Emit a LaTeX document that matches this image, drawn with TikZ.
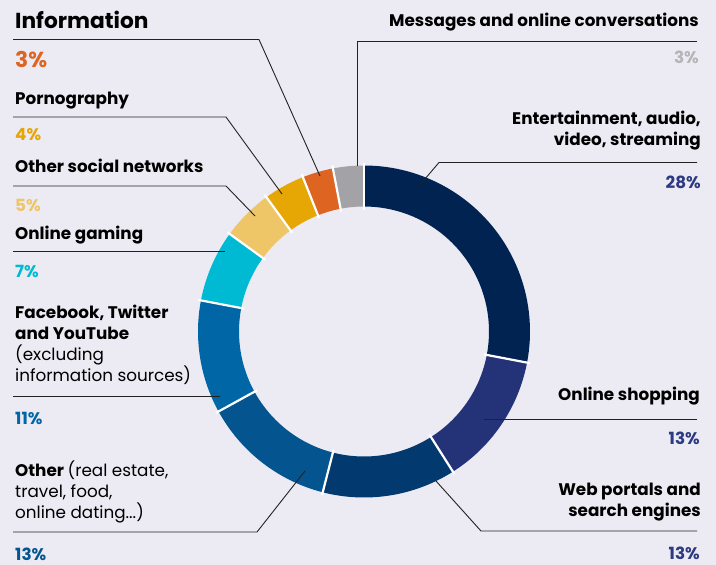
\documentclass[tikz,border=0pt]{standalone}
\usepackage{fontspec}
\setmainfont{Poppins}
\usetikzlibrary{calc}
\definecolor{bgc}{HTML}{ECEBF4}
\definecolor{cEnt}{HTML}{012352}
\definecolor{cShop}{HTML}{243378}
\definecolor{cWeb}{HTML}{023A6F}
\definecolor{cOther}{HTML}{03548F}
\definecolor{cFb}{HTML}{0066A6}
\definecolor{cGame}{HTML}{00B9D2}
\definecolor{cSoc}{HTML}{EEC567}
\definecolor{cPorn}{HTML}{E6A604}
\definecolor{cInfo}{HTML}{DD6421}
\definecolor{cMsg}{HTML}{A3A2A7}
\definecolor{tNavy}{HTML}{2B3A82}
\definecolor{tMsg}{HTML}{B5B5B8}
\definecolor{lineC}{HTML}{222222}
\begin{document}
\begin{tikzpicture}[x=1pt,y=-1pt,
  lblL/.style={inner sep=0pt, anchor=base west, align=left, font=\fontsize{16.8}{21}\selectfont\bfseries},
  lblR/.style={inner sep=0pt, anchor=base east, align=right, font=\fontsize{16.8}{21}\selectfont\bfseries},
  pctL/.style={inner sep=0pt, anchor=base west, font=\fontsize{16.8}{20}\selectfont\bfseries},
  pctR/.style={inner sep=0pt, anchor=base east, font=\fontsize{16.8}{20}\selectfont\bfseries},
  leader/.style={draw=lineC, line width=0.9pt},
  sep/.style={draw=white, line width=2.2pt}]
\fill[bgc] (0,0) rectangle (716,565);
\useasboundingbox (0,0) rectangle (716,565);
% donut
\coordinate (c) at (364,331.5);
\def\Ro{166}
\def\Ri{125}
\foreach \a/\b/\col in {0/28/cEnt, 28/41/cShop, 41/54/cWeb, 54/67/cOther, 67/78/cFb, 78/85/cGame, 85/90/cSoc, 90/94/cPorn, 94/97/cInfo, 97/100/cMsg}{
  \fill[\col] ($(c)+({-90+3.6*\a}:\Ro)$) arc[start angle={-90+3.6*\a}, end angle={-90+3.6*\b}, radius=\Ro]
    -- ($(c)+({-90+3.6*\b}:\Ri)$) arc[start angle={-90+3.6*\b}, end angle={-90+3.6*\a}, radius=\Ri] -- cycle;
}
\foreach \a in {0,28,41,54,67,78,85,90,94,97}{
  \draw[sep] ($(c)+({-90+3.6*\a}:{\Ri-3})$) -- ($(c)+({-90+3.6*\a}:{\Ro+3})$);
}
% left labels (base anchor = baseline of last line)
\node[inner sep=0pt, anchor=base west, font=\fontsize{21.7}{24}\selectfont\bfseries] (tInfo) at (15,28) {Information};
\node[inner sep=0pt, anchor=base west, font=\fontsize{21.7}{24}\selectfont\bfseries, text=cInfo] (pInfo) at (15,67) {3\%};
\node[lblL] (tPorn) at (15,104) {Pornography};
\node[pctL, text=cPorn] (pPorn) at (15,140) {4\%};
\node[lblL] (tSoc) at (15,172) {Other social networks};
\node[pctL, text=cSoc] (pSoc) at (15,211) {5\%};
\node[lblL] (tGame) at (15,239) {Online gaming};
\node[pctL, text=cGame] (pGame) at (15,277) {7\%};
\node[lblL] (tFb) at (15,381) {Facebook, Twitter\\and YouTube\\\mdseries(excluding\\\mdseries information sources)};
\node[pctL, text=cFb] (pFb) at (15,424) {11\%};
\node[lblL] (tOther) at (15,518) {Other \mdseries(real estate,\\\mdseries travel, food,\\\mdseries online dating...)};
\node[pctL, text=cOther] (pOther) at (15,560) {13\%};
% right labels
\node[lblR] (tMsg) at (699,26) {Messages and online conversations};
\node[pctR, text=tMsg] (pMsg) at (699,63) {3\%};
\node[lblR] (tEnt) at (701,145) {Entertainment, audio,\\video, streaming};
\node[pctR, text=tNavy] (pEnt) at (701,188) {28\%};
\node[lblR] (tShop) at (700,400) {Online shopping};
\node[pctR, text=tNavy] (pShop) at (700,444) {13\%};
\node[lblR] (tWeb) at (701,516) {Web portals and\\search engines};
\node[pctR, text=tNavy] (pWeb) at (700,559) {13\%};
% leader coordinates
\coordinate (infoA) at (13,39.5);  \coordinate (infoB) at (259,39.5);  \coordinate (infoE) at (320,176);
\coordinate (pornA) at (13,117);   \coordinate (pornB) at (226,117);   \coordinate (pornE) at (282,194);
\coordinate (socA) at (13,186);    \coordinate (socB) at (226,186);    \coordinate (socE) at (255,216);
\coordinate (gameA) at (13,251);   \coordinate (gameE) at (225,251);
\coordinate (fbA) at (13,396.5);   \coordinate (fbE) at (220,396.5);
\coordinate (othA) at (13,532);    \coordinate (othB) at (257,532);    \coordinate (othE) at (305,471);
\coordinate (msgA) at (697,41);    \coordinate (msgB) at (357,41);     \coordinate (msgE) at (357,166);
\coordinate (entA) at (697,162.5); \coordinate (entB) at (439,162.5);  \coordinate (entE) at (419,186);
\coordinate (shopA) at (697,419);  \coordinate (shopE) at (484,419);
\coordinate (webA) at (697,531);   \coordinate (webB) at (481,531);    \coordinate (webE) at (436,481);
\draw[leader] (infoA) -- (infoB) -- (infoE);
\draw[leader] (pornA) -- (pornB) -- (pornE);
\draw[leader] (socA) -- (socB) -- (socE);
\draw[leader] (gameA) -- (gameE);
\draw[leader] (fbA) -- (fbE);
\draw[leader] (othA) -- (othB) -- (othE);
\draw[leader] (msgA) -- (msgB) -- (msgE);
\draw[leader] (entA) -- (entB) -- (entE);
\draw[leader] (shopA) -- (shopE);
\draw[leader] (webA) -- (webB) -- (webE);
\end{tikzpicture}
\end{document}
